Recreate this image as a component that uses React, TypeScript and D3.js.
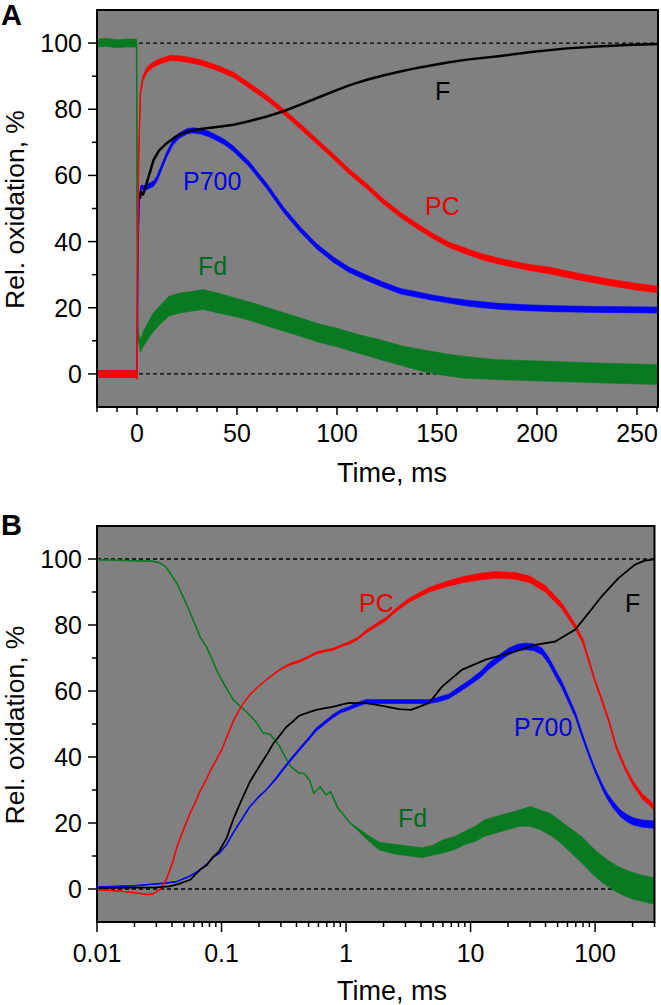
import React from 'react'
import * as d3 from 'd3'

// ---------- Panel A (linear time, ms) ----------
const A_FD_T = [-20, -15, -10, -5, -0.2, 0, 0.3, 1, 1.7, 2.5, 3.5, 5.5, 8, 11, 16, 22, 28, 33, 40, 50, 60, 69, 80, 90, 100, 110, 121, 133, 143, 155, 164, 180, 206, 230, 261]
const A_FD = [100, 100.2, 99.8, 100, 100, 55, 14, 10, 8.5, 9.5, 11, 13, 15.5, 17.5, 20.5, 21.5, 22, 22.5, 21.5, 20, 18.3, 16.5, 14.5, 12.5, 11, 9.2, 7.4, 5.4, 4, 2.7, 2, 1.3, 0.8, 0.3, -0.2]
const A_FD_NOISE = [1.2, 1.2, 1.2, 1.2, 1.2, 0, 1, 1.5, 2, 2, 2.3, 2.5, 2.8, 2.8, 3, 3, 3, 3, 3, 2.8, 2.8, 2.8, 2.8, 2.8, 2.8, 2.8, 3, 3, 3.3, 3.3, 3.3, 3, 3, 3, 3]

const A_PC_T = [-20, -10, -0.2, 0, 0.4, 0.8, 1.7, 3, 5, 8, 12, 16.7, 22, 27, 31.7, 40, 48.3, 56, 65, 73.3, 81.7, 90, 98.3, 106, 115, 123, 131.7, 140, 148.3, 156, 165, 173, 181.7, 195, 206, 220, 235, 250, 261]
const A_PC = [0, 0, 0, -1.5, 40, 65, 84.9, 89.5, 91.9, 93.5, 94.6, 95.5, 95.3, 94.8, 94.2, 92.5, 90.4, 87.2, 83.4, 79.3, 74.8, 70.2, 65.7, 61.2, 56.7, 52.2, 48.1, 44.7, 41.6, 39, 37, 35.3, 34, 32.3, 31.3, 29.5, 27.8, 26.3, 25.5]
const A_PC_NOISE = [1, 1, 1, 0, 0, 0, 0.5, 0.7, 0.8, 0.8, 0.8, 0.8, 0.8, 0.8, 0.8, 0.8, 0.8, 0.8, 0.8, 0.8, 0.8, 0.8, 0.8, 0.8, 0.8, 0.8, 0.8, 0.8, 0.8, 0.8, 0.9, 0.9, 0.9, 0.9, 1, 1, 1, 1, 1]

const A_P700_T = [-20, -10, -0.2, 0, 0.4, 1, 2, 3.3, 5, 6.5, 8.3, 10, 12, 15, 18, 21, 25, 28, 31.7, 36, 40, 44, 48.3, 56, 65, 73.3, 81.7, 90, 98.3, 106, 115, 123, 131.7, 140, 148.3, 156, 165, 173, 181.7, 195, 210, 230, 261]
const A_P700 = [0, 0, 0, 0, 35, 52, 56.5, 56.2, 56.5, 57, 57.5, 59, 62, 66.5, 70, 72, 73.3, 73.6, 73.3, 72.5, 71.3, 70, 68, 63.5, 56.7, 49.6, 43.6, 38.5, 34.5, 31.5, 29, 27, 25, 24, 23, 22.2, 21.4, 20.9, 20.4, 20, 19.7, 19.5, 19.3]
const A_P700_NOISE = [1, 1, 1, 0, 0, 0, 0.6, 0.7, 0.8, 0.8, 0.8, 0.8, 0.8, 0.8, 0.8, 0.8, 0.8, 0.8, 0.8, 0.8, 0.8, 0.8, 0.8, 0.8, 0.8, 0.8, 0.8, 0.8, 0.8, 0.8, 0.8, 0.8, 0.8, 0.8, 0.8, 0.8, 0.9, 0.9, 0.9, 0.9, 0.9, 0.9, 0.9]

const A_F_T = [1.5, 2, 3, 4.5, 6, 8.3, 11, 15, 20, 25, 31.7, 40, 48.3, 56, 65, 73.3, 81.7, 90, 98.3, 106, 115, 123, 131.7, 140, 148.3, 156, 165, 181.7, 197, 215, 230, 245, 261]
const A_F = [53, 55, 54.2, 57, 60, 64.7, 67.5, 69.8, 72, 73.2, 74, 74.6, 75.3, 76.4, 77.8, 79.4, 81.4, 83.4, 85.4, 87.2, 88.9, 90.2, 91.4, 92.5, 93.4, 94.2, 95, 96.1, 97.3, 98.4, 99, 99.4, 99.7]

// ---------- Panel B (log time, ms) ----------
const B_FD_T = [0.01, 0.02, 0.028, 0.032, 0.036, 0.044, 0.052, 0.06, 0.067, 0.076, 0.091, 0.105, 0.124, 0.14, 0.158, 0.19, 0.215, 0.244, 0.27, 0.293, 0.33, 0.36, 0.42, 0.46, 0.51, 0.55, 0.62, 0.69, 0.75, 0.86, 1.08, 1.3, 1.5, 1.85, 2.5, 3.2, 4.1, 5, 6, 7.5, 9, 11, 13, 16, 20, 25, 30, 36, 44, 50, 60, 70, 80, 93, 110, 126, 150, 175, 200, 240, 300]
const B_FD = [99.8, 99.5, 99.3, 98.8, 97.5, 92.5, 86.5, 81, 76.5, 73.3, 66.5, 62, 57.4, 55.5, 53.8, 50.5, 47.3, 47, 45, 43.2, 39.5, 37.1, 35.1, 35, 33, 29, 31, 28.5, 29.5, 24.5, 20, 17.5, 15.5, 13, 12, 11.5, 11, 11.8, 12.9, 14, 15.5, 16.8, 18.5, 19.5, 20.5, 21.5, 22, 21, 19.5, 18, 15.5, 13.4, 11.5, 8.9, 6.5, 4.8, 3, 1.8, 1, 0.2, -0.7]
const B_FD_NOISE = [0, 0, 0, 0, 0, 0, 0, 0, 0, 0, 0, 0, 0, 0, 0, 0, 0, 0, 0, 0, 0, 0, 0, 0, 0, 0, 0, 0, 0, 0, 0, 0.5, 0.8, 1.2, 1.5, 1.5, 1.5, 1.5, 2, 2, 2, 2.3, 2.5, 2.5, 2.5, 2.5, 3, 3, 3.3, 3.3, 3.5, 3.8, 4, 4, 4, 4, 4, 4, 4, 4, 4]

const B_PC_T = [0.01, 0.015, 0.02, 0.025, 0.028, 0.032, 0.036, 0.04, 0.044, 0.05, 0.056, 0.062, 0.067, 0.075, 0.083, 0.091, 0.1, 0.11, 0.124, 0.145, 0.169, 0.2, 0.229, 0.27, 0.311, 0.36, 0.42, 0.5, 0.575, 0.68, 0.78, 0.9, 1.06, 1.25, 1.45, 1.75, 2.09, 2.51, 3.2, 4.64, 6.5, 8.58, 12, 15.8, 22.9, 30, 39.8, 54, 69.2, 80, 88.5, 100, 113, 130, 148, 175, 202, 240, 276, 300]
const B_PC = [-0.2, -0.6, -1.1, -1.7, -1.5, -0.2, 2.8, 7.5, 12.9, 18.5, 23, 26.5, 29.5, 33, 36.5, 39.2, 42, 46, 50.8, 55.5, 58.9, 61.5, 63.4, 65.5, 67, 68.2, 69, 70.3, 71.5, 72.2, 72.6, 73.6, 74.6, 76, 78, 80, 81.8, 84.5, 87.5, 90.7, 92.5, 93.7, 94.7, 95.2, 94.9, 93.8, 91, 85.8, 79.6, 75, 69.5, 63, 57.4, 50.5, 43, 36.5, 32, 28, 26, 24.5]
const B_PC_NOISE = [0, 0, 0, 0, 0, 0, 0, 0, 0, 0, 0, 0, 0, 0, 0, 0, 0, 0, 0, 0, 0, 0, 0, 0, 0.2, 0.3, 0.3, 0.3, 0.3, 0.3, 0.3, 0.3, 0.4, 0.4, 0.4, 0.5, 0.5, 0.5, 0.6, 0.7, 0.8, 0.9, 1, 1, 1, 1, 1, 0.9, 0.8, 0.7, 0.6, 0.5, 0.5, 0.5, 0.5, 0.6, 0.7, 0.8, 0.8, 0.8]

const B_P700_T = [0.01, 0.02, 0.025, 0.036, 0.044, 0.055, 0.065, 0.076, 0.086, 0.096, 0.11, 0.124, 0.145, 0.169, 0.2, 0.229, 0.27, 0.311, 0.36, 0.42, 0.5, 0.575, 0.68, 0.78, 0.9, 1.06, 1.25, 1.45, 2, 2.8, 3.5, 4.64, 5.5, 6.7, 8, 9.7, 12, 14, 17, 20.3, 24, 27.5, 32, 37.4, 42, 47.9, 54, 61.2, 70, 78, 86, 93, 100, 107, 116, 126, 140, 159, 180, 202, 240, 298]
const B_P700 = [0.6, 1, 1.3, 1.8, 2.3, 3.8, 5.4, 7.5, 9.7, 10.8, 13.5, 17, 21, 25, 28, 30.1, 33.2, 36.2, 39.2, 42.2, 45.5, 48.3, 50.5, 52.3, 53.8, 54.8, 56, 56.8, 56.8, 56.8, 56.8, 56.8, 57.4, 58.4, 60.3, 62.4, 65, 67.5, 70, 72, 73.2, 73.5, 73.3, 72, 69.5, 65.5, 62, 57.4, 52.5, 47, 42.5, 39, 36, 33.5, 30.5, 28, 25.5, 23, 21.5, 20.5, 19.8, 19.5]
const B_P700_NOISE = [0, 0, 0, 0, 0, 0, 0, 0, 0, 0, 0, 0, 0, 0, 0, 0, 0.3, 0.3, 0.4, 0.4, 0.4, 0.5, 0.5, 0.5, 0.5, 0.5, 0.6, 0.6, 0.6, 0.6, 0.6, 0.6, 0.7, 0.7, 0.8, 0.8, 0.9, 1, 1, 1, 1, 1, 1, 1, 1, 1, 1, 0.9, 0.8, 0.7, 0.6, 0.6, 0.6, 0.7, 0.8, 0.9, 1, 1, 1.1, 1.1, 1.1, 1.1]

const B_F_T = [0.01, 0.02, 0.03, 0.038, 0.045, 0.056, 0.067, 0.076, 0.086, 0.096, 0.11, 0.124, 0.145, 0.169, 0.2, 0.229, 0.26, 0.293, 0.33, 0.38, 0.42, 0.5, 0.575, 0.68, 0.78, 0.9, 1.06, 1.45, 1.96, 2.67, 3.3, 3.63, 4.64, 5.93, 8.58, 13.2, 22.9, 33.1, 47.9, 69.2, 88.5, 113, 154, 209, 250, 300]
const B_F = [0.3, 0.4, 0.5, 0.8, 1.5, 2.8, 5.8, 7.2, 9.8, 11.5, 15.5, 21, 27, 32.5, 37, 40.5, 44, 46.5, 49, 51, 52.5, 53.5, 54.3, 54.8, 55.2, 55.8, 56.4, 56.3, 55.5, 54.5, 54.3, 54.8, 56.4, 61.4, 66.5, 69.5, 72, 74, 75, 78.6, 83.6, 88.7, 94.2, 98.3, 99.5, 99.9]

// ---------- axes ----------
const Y_TICKS = [0, 20, 40, 60, 80, 100]
const Y_MINOR = [10, 30, 50, 70, 90]
const A_X_TICKS = [0, 50, 100, 150, 200, 250]
const B_X_TICKS = [0.01, 0.1, 1, 10, 100]
const B_X_LABELS = ['0.01', '0.1', '1', '10', '100']

const FONT = '"Liberation Sans", Arial, Helvetica, sans-serif'
const GREEN = '#0a7a22'
const RED = '#ff0000'
const BLUE = '#0000ff'

interface Trace {
  t: number[]
  v: number[]
  noise?: number[]
  color: string
  width: number
}

interface Tag {
  text: string
  x: number
  y: number
  color: string
}

interface PanelProps {
  id: string
  top: number
  bottom: number
  left: number
  right: number
  x: (v: number) => number
  xTicks: number[]
  xLabels: string[]
  xMinor: number[]
  majorLen: number
  labelGap: number
  titleGap: number
  traces: Trace[]
  tags: Tag[]
  letter: string
  letterBase: number
}

const Panel: React.FC<PanelProps> = p => {
  const y = d3.scaleLinear().domain([-10, 110]).range([p.bottom, p.top])
  const clipId = `clip-${p.id}`
  const midY = (p.top + p.bottom) / 2

  return (
    <g>
      <defs>
        <clipPath id={clipId}>
          <rect x={p.left} y={p.top} width={p.right - p.left} height={p.bottom - p.top} />
        </clipPath>
      </defs>
      <rect x={p.left} y={p.top} width={p.right - p.left} height={p.bottom - p.top} fill="#808080" />

      {/* reference levels */}
      {[0, 100].map(v => (
        <line key={v} x1={p.left} x2={p.right} y1={y(v)} y2={y(v)} stroke="#000" strokeWidth={1.3} strokeDasharray="4,3" />
      ))}

      <g clipPath={`url(#${clipId})`}>
        {p.traces.map((tr, k) => {
          const line = d3
            .line<number>()
            .x((_, i) => p.x(tr.t[i]))
            .y(d => y(d))
          let band: string | null = null
          if (tr.noise) {
            const n = tr.noise
            band = d3
              .area<number>()
              .x((_, i) => p.x(tr.t[i]))
              .y0((d, i) => y(d - n[i]))
              .y1((d, i) => y(d + n[i]))(tr.v)
          }
          return (
            <g key={k}>
              {band && <path d={band} fill={tr.color} stroke={tr.color} strokeWidth={0.6} />}
              <path d={line(tr.v) || ''} fill="none" stroke={tr.color} strokeWidth={tr.width} strokeLinejoin="round" />
            </g>
          )
        })}
      </g>

      <rect x={p.left} y={p.top} width={p.right - p.left} height={p.bottom - p.top} fill="none" stroke="#000" strokeWidth={2} />

      {/* y axis */}
      {Y_TICKS.map(v => (
        <g key={`y${v}`}>
          <line x1={p.left - 9} x2={p.left} y1={y(v)} y2={y(v)} stroke="#000" strokeWidth={1.5} />
          <text x={82} y={y(v)} dy="0.36em" textAnchor="end" fontSize={25} fontFamily={FONT}>
            {v}
          </text>
        </g>
      ))}
      {Y_MINOR.map(v => (
        <line key={`ym${v}`} x1={p.left - 5} x2={p.left} y1={y(v)} y2={y(v)} stroke="#000" strokeWidth={1.5} />
      ))}

      {/* x axis */}
      {p.xTicks.map((v, i) => (
        <g key={`x${v}`}>
          <line x1={p.x(v)} x2={p.x(v)} y1={p.bottom} y2={p.bottom + p.majorLen} stroke="#000" strokeWidth={1.5} />
          <text x={p.x(v)} y={p.bottom + p.labelGap} textAnchor="middle" fontSize={25} fontFamily={FONT}>
            {p.xLabels[i]}
          </text>
        </g>
      ))}
      {p.xMinor.map(v => (
        <line key={`xm${v}`} x1={p.x(v)} x2={p.x(v)} y1={p.bottom} y2={p.bottom + 5} stroke="#000" strokeWidth={1.5} />
      ))}

      <text x={392} y={p.bottom + p.titleGap} textAnchor="middle" fontSize={27} fontFamily={FONT}>
        Time, ms
      </text>
      <text
        transform={`translate(24, ${midY + 1}) rotate(-90)`}
        textAnchor="middle"
        fontSize={26.5}
        fontFamily={FONT}
      >
        Rel. oxidation, %
      </text>
      <text x={1} y={p.letterBase} fontSize={29} fontWeight="bold" fontFamily={FONT}>
        {p.letter}
      </text>

      {p.tags.map(tg => (
        <text key={tg.text} x={tg.x} y={tg.y} fill={tg.color} fontSize={25} fontFamily={FONT}>
          {tg.text}
        </text>
      ))}
    </g>
  )
}

export default function App() {
  const xA = d3.scaleLinear().domain([-20, 260.5]).range([97, 658])
  const xB = d3.scaleLog().domain([0.01, 300]).range([97, 654.5])

  const aMinor = d3.range(-20, 261, 10).filter(v => v % 50 !== 0)
  const bMinor: number[] = []
  B_X_TICKS.forEach(d => {
    for (let m = 2; m <= 9; m++) if (d * m <= 300) bMinor.push(d * m)
  })

  const tracesA: Trace[] = [
    { t: A_FD_T, v: A_FD, noise: A_FD_NOISE, color: GREEN, width: 1.5 },
    { t: A_P700_T, v: A_P700, noise: A_P700_NOISE, color: BLUE, width: 1.5 },
    { t: A_PC_T, v: A_PC, noise: A_PC_NOISE, color: RED, width: 1.5 },
    { t: A_F_T, v: A_F, color: '#000', width: 2.5 },
  ]
  const tracesB: Trace[] = [
    { t: B_FD_T, v: B_FD, noise: B_FD_NOISE, color: GREEN, width: 1.5 },
    { t: B_P700_T, v: B_P700, noise: B_P700_NOISE, color: BLUE, width: 1.5 },
    { t: B_PC_T, v: B_PC, noise: B_PC_NOISE, color: RED, width: 1.5 },
    { t: B_F_T, v: B_F, color: '#000', width: 1.8 },
  ]

  return (
    <svg width={661} height={1005} style={{ position: 'absolute', left: 0, top: 0, background: '#fff' }}>
      <Panel
        id="a"
        top={10}
        bottom={407}
        left={97}
        right={658}
        x={xA}
        xTicks={A_X_TICKS}
        xLabels={A_X_TICKS.map(String)}
        xMinor={aMinor}
        majorLen={8}
        labelGap={35}
        titleGap={75}
        traces={tracesA}
        tags={[
          { text: 'F', x: 435, y: 100, color: '#000' },
          { text: 'PC', x: 425, y: 215, color: '#e60000' },
          { text: 'P700', x: 183, y: 190, color: '#0000e6' },
          { text: 'Fd', x: 198, y: 275, color: '#006b1c' },
        ]}
        letter="A"
        letterBase={25}
      />
      <Panel
        id="b"
        top={526}
        bottom={922}
        left={97}
        right={654.5}
        x={xB}
        xTicks={B_X_TICKS}
        xLabels={B_X_LABELS}
        xMinor={bMinor}
        majorLen={10}
        labelGap={40}
        titleGap={78}
        traces={tracesB}
        tags={[
          { text: 'PC', x: 359, y: 612, color: '#e60000' },
          { text: 'F', x: 625, y: 612, color: '#000' },
          { text: 'P700', x: 514, y: 736, color: '#0000e6' },
          { text: 'Fd', x: 398, y: 827, color: '#006b1c' },
        ]}
        letter="B"
        letterBase={535}
      />
    </svg>
  )
}
